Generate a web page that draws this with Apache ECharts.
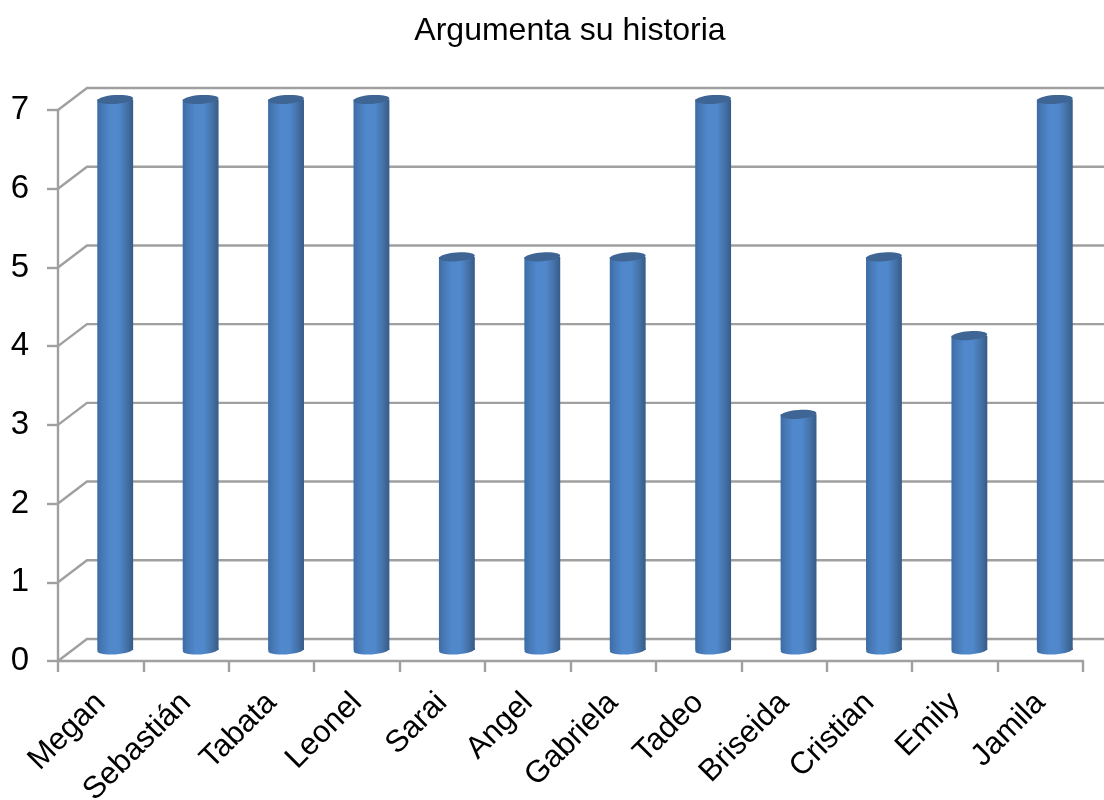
<!DOCTYPE html>
<html><head><meta charset="utf-8">
<script src="https://cdn.jsdelivr.net/npm/echarts@6/dist/echarts.min.js"></script>
<style>html,body{margin:0;padding:0;background:#fff}#c{width:1104px;height:800px}</style>
</head><body><div id="c"></div>
<script>
const categories = ['Megan','Sebastián','Tabata','Leonel','Sarai','Angel','Gabriela','Tadeo','Briseida','Cristian','Emily','Jamila'];
const scores = [7,7,7,7,5,5,5,7,3,5,4,7];
const yTicks = [0,1,2,3,4,5,6,7];
const titleText = 'Argumenta su historia';

const depthX = 29, depthY = 22;
const gridColor = '#a0a0a0';
const chart = echarts.init(document.getElementById('c'), null, {renderer:'canvas'});

function bodyFill(){
  return new echarts.graphic.LinearGradient(0,0,1,0,[
    {offset:0,color:'#3d6ca5'},{offset:0.12,color:'#4577b3'},{offset:0.35,color:'#5088cc'},
    {offset:0.6,color:'#5088cb'},{offset:0.82,color:'#4472a8'},{offset:1,color:'#375b87'}]);
}
function wall(params, api){
  const v = api.value(0);
  const p = api.coord([0, v]);
  const x0 = params.coordSys.x, xEnd = params.coordSys.x + params.coordSys.width;
  return {type:'polyline', silent:true,
    shape:{points:[[x0,p[1]],[x0+depthX,p[1]-depthY],[xEnd+depthX,p[1]-depthY]]},
    style:{stroke:gridColor,lineWidth:2.4,fill:null}};
}
function cylinder(params, api){
  const c = api.coord([api.value(0), api.value(1)]);
  const b = api.coord([api.value(0), 0]);
  const bw = api.size([1,0])[0]*0.42;
  const x = c[0]+depthX/2, top = c[1]-depthY/2+0.5, bot = b[1]-depthY/2;
  const rx = bw/2, ry = 4.4, rot = 0.075;
  return {type:'group',children:[
    {type:'rect',shape:{x:x-rx,y:top,width:bw,height:bot-top},style:{fill:bodyFill()}},
    {type:'ellipse',shape:{cx:x,cy:bot,rx:rx,ry:ry},originX:x,originY:bot,rotation:rot,style:{fill:bodyFill()}},
    {type:'ellipse',shape:{cx:x,cy:top,rx:rx,ry:ry},originX:x,originY:top,rotation:rot,style:{fill:'#3e6594'}}
  ]};
}
chart.setOption({
  animation:false,
  backgroundColor:'#fff',
  textStyle:{fontFamily:'Liberation Sans'},
  title:{text:titleText,left:565,top:10,textAlign:'center',
    textStyle:{fontFamily:'Liberation Sans',fontSize:32,fontWeight:'normal',color:'#000'}},
  grid:{left:58,right:21,top:110,bottom:139,containLabel:false,outerBoundsMode:'none'},
  xAxis:{type:'category',data:categories,boundaryGap:true,
    axisLine:{show:true,onZero:false,lineStyle:{color:gridColor,width:2.4}},
    axisTick:{show:true,alignWithLabel:false,length:11,lineStyle:{color:gridColor,width:2.4}},
    axisLabel:{interval:0,rotate:45,margin:37,fontSize:31,color:'#000',fontFamily:'Liberation Sans'}},
  yAxis:{type:'value',min:0,max:7,interval:1,
    axisLine:{show:true,lineStyle:{color:gridColor,width:2.4}},
    axisTick:{show:true,length:11,lineStyle:{color:gridColor,width:2.4}},
    splitLine:{show:false},
    axisLabel:{margin:29,fontSize:33,color:'#000',fontFamily:'Liberation Sans',
      formatter:v=>String(v)}},
  series:[
    {type:'custom',name:'wall',clip:false,silent:true,z:1,renderItem:wall,
     encode:{y:0},data:yTicks.map(t=>[t])},
    {type:'custom',name:'Argumenta su historia',clip:false,z:3,renderItem:cylinder,
     encode:{x:0,y:1},data:scores.map((s,i)=>[i,s])}
  ]
});
</script></body></html>
